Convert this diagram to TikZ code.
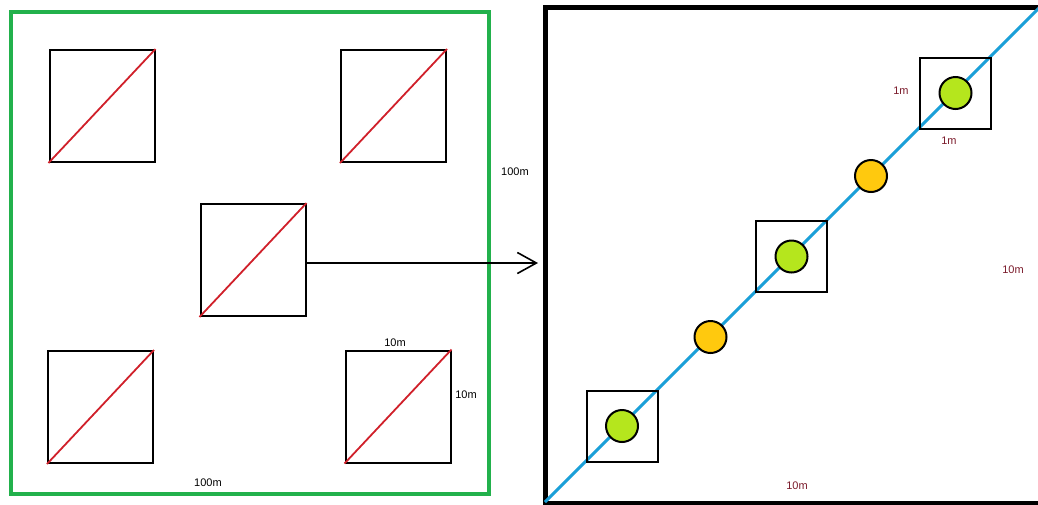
\documentclass[tikz,border=0pt]{standalone}
\usepackage{fontspec}
\setmainfont{Liberation Sans}
\usetikzlibrary{arrows.meta}
\definecolor{framegreen}{HTML}{22B14C}
\definecolor{diagred}{HTML}{D0202A}
\definecolor{pathblue}{HTML}{1A9FD8}
\definecolor{limefill}{HTML}{B5E61D}
\definecolor{amberfill}{HTML}{FFC90E}
\definecolor{darklabel}{HTML}{7A1A2A}
\tikzset{
  plotbox/.style={draw=black, line width=2pt, minimum width=105pt, minimum height=112pt, inner sep=0pt},
  cellbox/.style={draw=black, line width=2pt, minimum width=71pt, minimum height=71pt, inner sep=0pt},
  diag/.style={draw=diagred, line width=1.8pt},
  sensor/.style={circle, draw=black, line width=2pt, minimum size=32pt, inner sep=0pt, fill=limefill},
  relay/.style={circle, draw=black, line width=2pt, minimum size=32pt, inner sep=0pt, fill=amberfill},
  dimlabel/.style={font=\fontsize{11pt}{13pt}\selectfont, text=black, inner sep=0pt},
  celllabel/.style={font=\fontsize{11pt}{13pt}\selectfont, text=darklabel, inner sep=0pt},
}
\begin{document}
\begin{tikzpicture}[x=1pt, y=-1pt]
\useasboundingbox (0,0) rectangle (1038,504);
\begin{scope}
\clip (0,0) rectangle (1038,504);

% Field boundary, 100m x 100m
\draw[framegreen, line width=4pt] (11,12) rectangle (489,494);

% Plots of 10m x 10m, each with its diagonal
\node[plotbox] (p1) at (102,106) {};
\node[plotbox] (p2) at (393.5,106) {};
\node[plotbox] (p3) at (253,260) {};
\node[plotbox] (p4) at (100.5,407) {};
\node[plotbox] (p5) at (398,406.5) {};
\foreach \p in {p1,p2,p3,p4,p5}
  \draw[diag] (\p.south west) -- (\p.north east);

\node[dimlabel] (l10top) at (395,343) {10m};
\node[dimlabel] (l10side) at (466,395) {10m};
\node[dimlabel] (l100side) at (515,172) {100m};
\node[dimlabel] (l100bottom) at (208,483) {100m};

% Zoomed view of one plot
\coordinate (zoomtip) at (538,263);
\draw[line width=1.6pt, -{Straight Barb[length=19pt, width=21pt, line width=1.6pt]}] (p3.east |- zoomtip) -- (zoomtip);

\coordinate (zsw) at (545,502);
\coordinate (zne) at (1040,7);
\draw[black, line width=5pt] (545,7) rectangle (1044,503);
\draw[pathblue, line width=3pt] (zsw) -- (zne);

\node[cellbox] (c1) at (622,426) {};
\node[cellbox] (c2) at (791.5,256.5) {};
\node[cellbox] (c3) at (955.5,93) {};

\node[sensor] (g1) at (c1.center) {};
\node[sensor] (g2) at (c2.center) {};
\node[sensor] (g3) at (c3.center) {};
\node[relay] (o1) at (710.5,337) {};
\node[relay] (o2) at (871,176) {};

\node[celllabel] (l1mside) at (901,91) {1m};
\node[celllabel] (l1mbottom) at (949,141) {1m};
\node[celllabel] (l10right) at (1013,270) {10m};
\node[celllabel] (l10bottom) at (797,486) {10m};
\end{scope}
\end{tikzpicture}
\end{document}
